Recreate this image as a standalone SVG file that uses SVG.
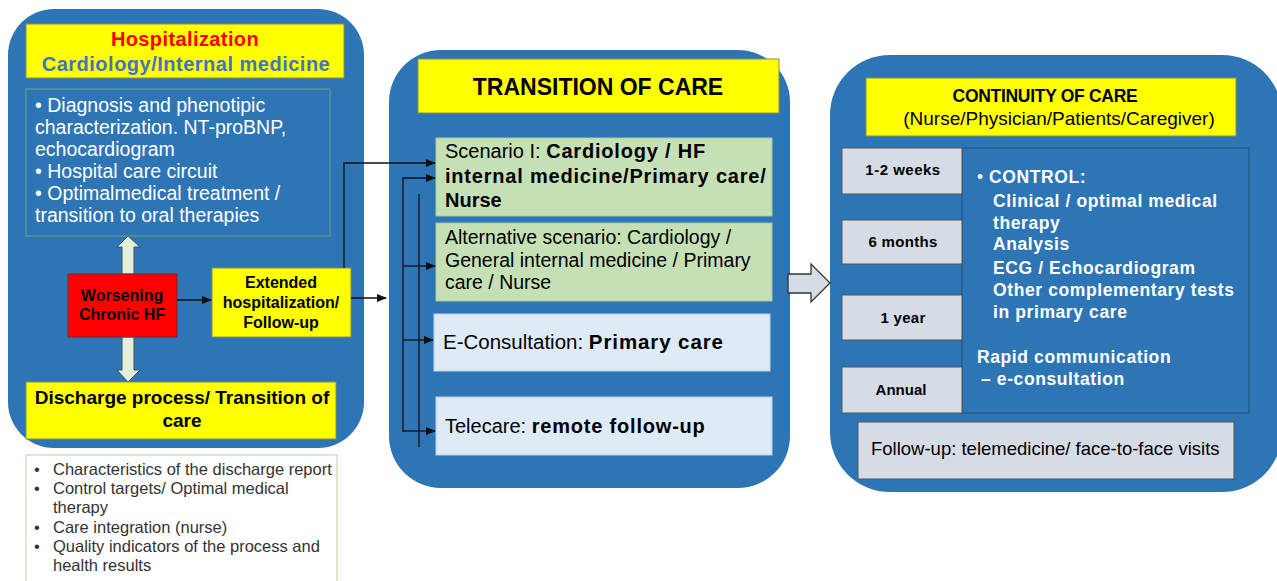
<svg xmlns="http://www.w3.org/2000/svg" width="1277" height="581" viewBox="0 0 1277 581">
<defs>
<style>
text{font-family:"Liberation Sans",Arial,sans-serif;}
.panel{fill:#2E75B6;}
.yel{fill:#FFFF00;stroke:#8c8c4a;stroke-width:1;}
.grn{fill:#C5E0B4;stroke:#a9c99a;stroke-width:1;}
.lblue{fill:#DEEBF7;stroke:#bcd0e6;stroke-width:1;}
.time{fill:#D6DCE5;stroke:#555;stroke-width:1;}
.b{font-weight:bold;}
.w{fill:#fff;}
.k{fill:#000;}
.con{stroke:#111;stroke-width:1.3;fill:none;}
.bigarrow{fill:#E2EFDA;stroke:#3f4f5f;stroke-width:1;}
</style>
<marker id="ah" markerWidth="10" markerHeight="8" refX="9" refY="4" orient="auto" markerUnits="userSpaceOnUse">
<path d="M0,0 L10,4 L0,8 Z" fill="#111"/>
</marker>
</defs>
<rect width="1277" height="581" fill="#fff"/>

<g id="panel-hospitalization">
<rect class="panel" x="8" y="9" width="356" height="439" rx="46"/>
</g>
<g id="panel-transition">
<rect class="panel" x="389" y="50" width="401" height="438" rx="52"/>
</g>
<g id="panel-continuity">
<rect class="panel" x="830" y="55" width="452" height="437" rx="60"/>
</g>

<g id="hosp-header">
<rect class="yel" x="26" y="24" width="318" height="54"/>
<text x="185" y="46" text-anchor="middle" font-size="20" class="b" fill="#FF0000" letter-spacing="0.4">Hospitalization</text>
<text x="186" y="71" text-anchor="middle" font-size="20" class="b" fill="#4472C4" letter-spacing="0.5">Cardiology/Internal medicine</text>
</g>

<g id="hosp-details">
<rect x="26" y="89" width="304" height="147" fill="none" stroke="#6fa37a" stroke-width="1"/>
<text class="w" font-size="19.5">
<tspan x="35" y="112">• Diagnosis and phenotipic</tspan>
<tspan x="35" y="134">characterization. NT-proBNP,</tspan>
<tspan x="35" y="156">echocardiogram</tspan>
<tspan x="35" y="178">• Hospital care circuit</tspan>
<tspan x="35" y="200">• Optimalmedical treatment /</tspan>
<tspan x="35" y="222">transition to oral therapies</tspan>
</text>
</g>

<g id="updown-arrows">
<polygon class="bigarrow" points="122,274 122,247 117,247 128,236 140,247 134,247 134,274"/>
<polygon class="bigarrow" points="122,337 134,337 134,370 140,370 128,382 117,370 122,370"/>
</g>

<g id="worsening">
<rect x="68" y="274" width="109" height="63" fill="#FF0000" stroke="#7a2a2a" stroke-width="1"/>
<text x="122" y="301" text-anchor="middle" font-size="16" class="b k">Worsening</text>
<text x="122" y="320" text-anchor="middle" font-size="16" class="b k">Chronic HF</text>
</g>

<g id="extended">
<rect class="yel" x="212" y="268" width="139" height="69"/>
<text x="281" y="288" text-anchor="middle" font-size="16" class="b k">Extended</text>
<text x="281" y="308" text-anchor="middle" font-size="16" class="b k">hospitalization/</text>
<text x="281" y="328" text-anchor="middle" font-size="16" class="b k">Follow-up</text>
</g>

<g id="discharge">
<rect class="yel" x="26" y="382" width="310" height="57"/>
<text x="182" y="404" text-anchor="middle" font-size="19" class="b k">Discharge process/ Transition of</text>
<text x="182" y="427" text-anchor="middle" font-size="19" class="b k">care</text>
</g>

<g id="discharge-details">
<rect x="26" y="455" width="311" height="130" fill="#fff" stroke="#b5cfa5" stroke-width="1"/>
<text font-size="16.5" fill="#333">
<tspan x="34" y="475">•</tspan><tspan x="53" y="475">Characteristics of the discharge report</tspan>
<tspan x="34" y="494">•</tspan><tspan x="53" y="494">Control targets/ Optimal medical</tspan>
<tspan x="53" y="513">therapy</tspan>
<tspan x="34" y="533">•</tspan><tspan x="53" y="533">Care integration (nurse)</tspan>
<tspan x="34" y="552">•</tspan><tspan x="53" y="552">Quality indicators of the process and</tspan>
<tspan x="53" y="571">health results</tspan>
</text>
</g>

<g id="transition-header">
<rect class="yel" x="418" y="59" width="361" height="54"/>
<text x="598" y="95" text-anchor="middle" font-size="23" class="b k">TRANSITION OF CARE</text>
</g>

<g id="scenario-1">
<rect class="grn" x="436" y="138" width="336" height="78"/>
<text font-size="20" class="k"><tspan x="445" y="158">Scenario I:  </tspan><tspan class="b" letter-spacing="0.8">Cardiology / HF</tspan></text>
<text x="445" y="183" font-size="20" class="b k" letter-spacing="0.8">internal medicine/Primary care/</text>
<text x="445" y="207" font-size="20" class="b k">Nurse</text>
</g>

<g id="scenario-alt">
<rect class="grn" x="436" y="223" width="336" height="78"/>
<text font-size="19.5" class="k">
<tspan x="445" y="244">Alternative scenario: Cardiology /</tspan>
<tspan x="445" y="267">General internal medicine / Primary</tspan>
<tspan x="445" y="289">care / Nurse</tspan>
</text>
</g>

<g id="e-consultation">
<rect class="lblue" x="434" y="314" width="336" height="57"/>
<text font-size="20.5" class="k"><tspan x="443" y="349">E-Consultation:  </tspan><tspan class="b" letter-spacing="0.9">Primary care</tspan></text>
</g>

<g id="telecare">
<rect class="lblue" x="436" y="397" width="336" height="58"/>
<text font-size="20" class="k"><tspan x="445" y="433">Telecare:  </tspan><tspan class="b" letter-spacing="0.8">remote follow-up</tspan></text>
</g>

<g id="block-arrow">
<polygon points="788,274 811,274 811,264 830,283 811,302 811,293 788,293" fill="#D6DCE5" stroke="#333" stroke-width="1.3"/>
</g>

<g id="continuity-header">
<rect class="yel" x="866" y="78" width="370" height="58"/>
<text x="1045" y="102" text-anchor="middle" font-size="17.5" class="b k" letter-spacing="-0.3">CONTINUITY OF CARE</text>
<text x="1059" y="125" text-anchor="middle" font-size="19" class="k">(Nurse/Physician/Patients/Caregiver)</text>
</g>

<g id="control">
<rect x="962" y="148" width="287" height="265" fill="#2E75B6" stroke="#1f4e79" stroke-width="1"/>
<text font-size="17.5" class="b w" letter-spacing="0.6">
<tspan x="977" y="183" font-weight="normal">•</tspan><tspan x="989" y="183">CONTROL:</tspan>
<tspan x="993" y="207">Clinical / optimal medical</tspan>
<tspan x="993" y="229">therapy</tspan>
<tspan x="993" y="250">Analysis</tspan>
<tspan x="993" y="274">ECG / Echocardiogram</tspan>
<tspan x="993" y="296">Other complementary tests</tspan>
<tspan x="993" y="318">in primary care</tspan>
<tspan x="977" y="363">Rapid communication</tspan>
<tspan x="981" y="385">– e-consultation</tspan>
</text>
</g>

<g id="t-1-2-weeks">
<rect class="time" x="842" y="148" width="120" height="46"/>
<text x="903" y="175" text-anchor="middle" font-size="15" class="b k" letter-spacing="0.5">1-2 weeks</text>
</g>
<g id="t-6-months">
<rect class="time" x="842" y="220" width="120" height="44"/>
<text x="903" y="247" text-anchor="middle" font-size="15" class="b k" letter-spacing="0.3">6 months</text>
</g>
<g id="t-1-year">
<rect class="time" x="842" y="295" width="120" height="45"/>
<text x="903" y="323" text-anchor="middle" font-size="15" class="b k" letter-spacing="0.3">1 year</text>
</g>
<g id="t-annual">
<rect class="time" x="842" y="367" width="120" height="46"/>
<text x="901" y="395" text-anchor="middle" font-size="15" class="b k">Annual</text>
</g>

<g id="follow-up">
<rect class="time" x="858" y="422" width="376" height="57"/>
<text x="871" y="455" font-size="18.5" class="k">Follow-up: telemedicine/ face-to-face visits</text>
</g>

<g id="connectors">
<line class="con" x1="177" y1="300" x2="211" y2="300" marker-end="url(#ah)"/>
<line class="con" x1="351" y1="298" x2="386" y2="298" marker-end="url(#ah)"/>
<polyline class="con" points="344,268 344,163 435,163" marker-end="url(#ah)"/>
<polyline class="con" points="403,432 403,178 435,178" marker-end="url(#ah)"/>
<line class="con" x1="403" y1="266" x2="435" y2="266" marker-end="url(#ah)"/>
<line class="con" x1="403" y1="340" x2="433" y2="340" marker-end="url(#ah)"/>
<line class="con" x1="403" y1="431" x2="435" y2="431" marker-end="url(#ah)"/>
<line class="con" x1="419" y1="194" x2="419" y2="447" stroke="#1a2a44"/>
</g>
</svg>
